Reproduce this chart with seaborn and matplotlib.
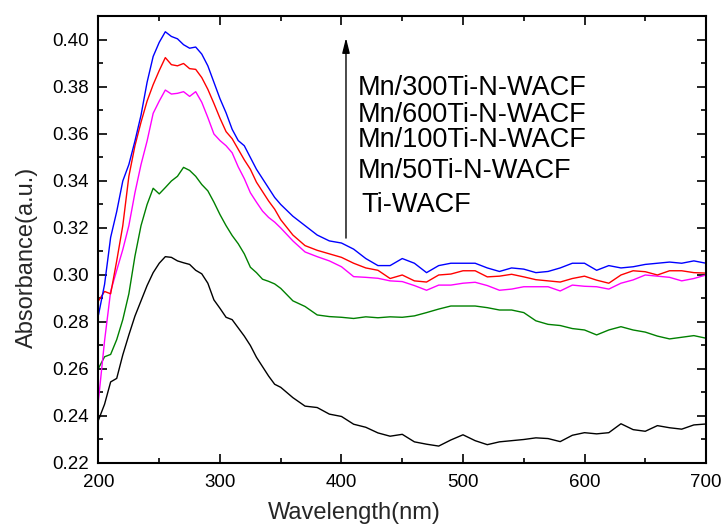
import numpy as np
import pandas as pd
import matplotlib
matplotlib.use("Agg")
import matplotlib.pyplot as plt
import seaborn as sns

# ---------------- data ----------------
wavelength = list(range(200, 351, 5)) + list(range(360, 701, 10))

mn300 = [0.283, 0.296, 0.316, 0.327, 0.340, 0.347, 0.357, 0.368, 0.382, 0.393, 0.399,
         0.4035, 0.4015, 0.4005, 0.398, 0.3965, 0.397, 0.394, 0.389, 0.382, 0.375,
         0.369, 0.362, 0.3572, 0.355, 0.350, 0.345, 0.341, 0.337, 0.333, 0.330,
         0.325, 0.321, 0.317, 0.3145, 0.3136, 0.311, 0.307, 0.304, 0.304, 0.307,
         0.305, 0.301, 0.304, 0.305, 0.305, 0.305, 0.303, 0.3015, 0.303, 0.3025,
         0.301, 0.3015, 0.303, 0.305, 0.305, 0.302, 0.304, 0.303, 0.3035, 0.3045,
         0.305, 0.3055, 0.305, 0.306, 0.305]
mn600 = [0.289, 0.293, 0.292, 0.306, 0.321, 0.342, 0.355, 0.365, 0.374, 0.381, 0.387,
         0.3925, 0.3895, 0.389, 0.390, 0.3878, 0.3875, 0.384, 0.379, 0.373, 0.3667,
         0.361, 0.358, 0.3535, 0.349, 0.345, 0.3395, 0.3355, 0.3315, 0.328, 0.3235,
         0.317, 0.3125, 0.3105, 0.309, 0.3075, 0.305, 0.303, 0.302, 0.2985, 0.300,
         0.2975, 0.297, 0.300, 0.3004, 0.3018, 0.3018, 0.2992, 0.2995, 0.3003, 0.2992,
         0.298, 0.2975, 0.297, 0.2985, 0.2995, 0.2978, 0.2965, 0.300, 0.3018, 0.3014,
         0.300, 0.3018, 0.3018, 0.301, 0.3008]
mn100 = [0.2468, 0.272, 0.293, 0.302, 0.3108, 0.321, 0.335, 0.347, 0.357, 0.3688, 0.374,
         0.3787, 0.377, 0.3773, 0.378, 0.376, 0.378, 0.3735, 0.367, 0.360, 0.3572,
         0.355, 0.352, 0.346, 0.341, 0.335, 0.331, 0.3272, 0.3245, 0.3225, 0.320,
         0.3145, 0.3098, 0.3078, 0.306, 0.3035, 0.2993, 0.299, 0.2986, 0.2975, 0.2972,
         0.2955, 0.2935, 0.2957, 0.2957, 0.2965, 0.2969, 0.2955, 0.2935, 0.294, 0.295,
         0.295, 0.295, 0.2932, 0.2957, 0.2952, 0.295, 0.294, 0.2965, 0.2979, 0.300,
         0.2995, 0.299, 0.2975, 0.2985, 0.300]
mn50 = [0.2603, 0.2652, 0.2662, 0.2725, 0.281, 0.292, 0.308, 0.321, 0.330, 0.3369, 0.3345,
        0.3372, 0.340, 0.342, 0.3458, 0.3445, 0.342, 0.3385, 0.3358, 0.331, 0.3257,
        0.321, 0.3168, 0.3133, 0.309, 0.3033, 0.301, 0.2982, 0.2973, 0.2962, 0.2943,
        0.289, 0.2866, 0.283, 0.2823, 0.282, 0.2815, 0.2822, 0.2818, 0.2822, 0.282,
        0.2826, 0.284, 0.2855, 0.2868, 0.2868, 0.2868, 0.2861, 0.2851, 0.2851, 0.284,
        0.2805, 0.279, 0.2785, 0.2772, 0.2766, 0.2745, 0.2766, 0.278, 0.2766, 0.2757,
        0.274, 0.2728, 0.2735, 0.2742, 0.2731]
ti = [0.2383, 0.245, 0.2545, 0.256, 0.266, 0.2745, 0.2825, 0.289, 0.2955, 0.301, 0.305,
      0.3078, 0.3075, 0.306, 0.3052, 0.3045, 0.302, 0.3005, 0.2965, 0.2894, 0.2858,
      0.282, 0.281, 0.2775, 0.274, 0.270, 0.265, 0.261, 0.257, 0.2535, 0.2522,
      0.2478, 0.2442, 0.2436, 0.2408, 0.2398, 0.2365, 0.2352, 0.2328, 0.2314, 0.2322,
      0.229, 0.228, 0.2272, 0.2298, 0.232, 0.2295, 0.2278, 0.229, 0.2295, 0.230,
      0.2307, 0.2304, 0.2291, 0.2318, 0.2329, 0.2324, 0.2329, 0.2367, 0.2342, 0.2335,
      0.2359, 0.235, 0.2344, 0.2362, 0.2366]

series_names = ["Ti-WACF", "Mn/50Ti-N-WACF", "Mn/100Ti-N-WACF", "Mn/600Ti-N-WACF", "Mn/300Ti-N-WACF"]
series_values = [ti, mn50, mn100, mn600, mn300]
series_colors = ["#000000", "#008000", "#ff00ff", "#ff0000", "#0000ff"]
label_order = ["Mn/300Ti-N-WACF", "Mn/600Ti-N-WACF", "Mn/100Ti-N-WACF", "Mn/50Ti-N-WACF", "Ti-WACF"]

x_ticks = [200, 300, 400, 500, 600, 700]
y_ticks = [0.22, 0.24, 0.26, 0.28, 0.30, 0.32, 0.34, 0.36, 0.38, 0.40]

frames = []
for name, vals in zip(series_names, series_values):
    frames.append(pd.DataFrame({"Wavelength": wavelength, "Absorbance": vals, "Sample": name}))
df = pd.concat(frames, ignore_index=True)

# ---------------- style ----------------
sns.set_theme(style="ticks")
plt.rcParams["font.family"] = ["Liberation Sans", "DejaVu Sans"]

fig = plt.figure(figsize=(7.21, 5.25), dpi=100)
ax = fig.add_axes([0.1366, 0.1181, 0.8426, 0.8514])

sns.lineplot(data=df, x="Wavelength", y="Absorbance", hue="Sample",
             hue_order=series_names, palette=series_colors, linewidth=1.0,
             estimator=None, sort=False, legend=False, ax=ax)

ax.set_xlim(200, 700)
ax.set_ylim(0.22, 0.4102)
ax.set_xticks(x_ticks)
ax.set_xticks(np.arange(250, 700, 100), minor=True)
ax.set_yticks(y_ticks)
ax.set_yticks(np.arange(0.23, 0.41, 0.02), minor=True)
ax.set_xticklabels([str(v) for v in x_ticks])
ax.set_yticklabels([f"{v:.2f}" for v in y_ticks])

ax.tick_params(which="both", direction="in", top=True, right=True, width=1.2, colors="black")
ax.tick_params(which="major", length=6.5, labelsize=13.5)
ax.tick_params(axis="x", which="major", pad=8)
ax.tick_params(axis="y", which="major", pad=7)
ax.tick_params(which="minor", length=3.5)
for sp in ax.spines.values():
    sp.set_linewidth(1.5)
    sp.set_color("black")

ax.set_xlabel("Wavelength(nm)", fontsize=17)
ax.set_ylabel("Absorbance(a.u.)", fontsize=17)
ax.xaxis.set_label_coords(0.4206, -0.087)
ax.yaxis.set_label_coords(-0.0996, 0.461)

# arrow and sample labels
ax.annotate("", xy=(403.7, 0.4009), xytext=(403.7, 0.3157),
            arrowprops=dict(arrowstyle="-|>,head_length=0.6,head_width=0.15",
                            color="black", lw=1.0, mutation_scale=15,
                            shrinkA=0, shrinkB=0))
label_x = [413.0, 413.0, 413.0, 413.0, 416.5]
label_y = [0.3766, 0.3651, 0.35447, 0.34115, 0.32694]
for name, lx, ly in zip(label_order, label_x, label_y):
    ax.text(lx, ly, name, fontsize=19.5, ha="left", va="baseline", color="black")

fig.savefig("out.png", dpi=100)
